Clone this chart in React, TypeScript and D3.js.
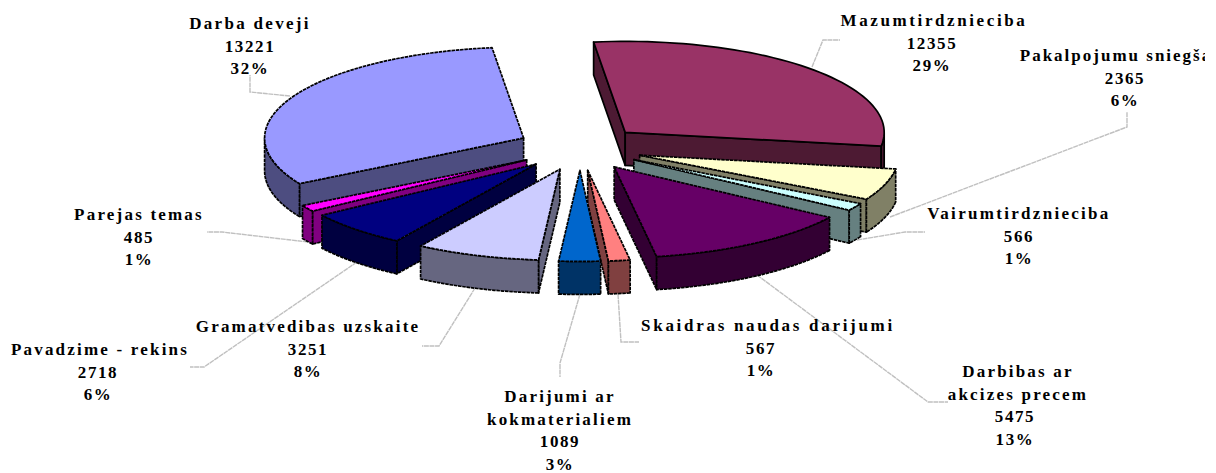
import React from "react";
import * as d3 from "d3";

const categories = [
  "Mazumtirdznieciba",
  "Pakalpojumu sniegša",
  "Vairumtirdznieciba",
  "Darbibas ar akcizes precem",
  "Skaidras naudas darijumi",
  "Darijumi ar kokmaterialiem",
  "Gramatvedibas uzskaite",
  "Pavadzime - rekins",
  "Parejas temas",
  "Darba deveji",
];
const values = [12355, 2365, 566, 5475, 567, 1089, 3251, 2718, 485, 13221];
const percents = ["29%", "6%", "1%", "13%", "1%", "3%", "8%", "6%", "1%", "32%"];
const topColors = ["#993366", "#ffffcc", "#ccffff", "#660066", "#ff8080", "#0066cc", "#ccccff", "#000080", "#ff00ff", "#9999ff"];
const sideColors = ["#4d1a33", "#808066", "#668080", "#330033", "#804040", "#003366", "#666680", "#000040", "#800080", "#4d4d80"];

// how the category names wrap in the labels
const nameLines = [
  ["Mazumtirdznieciba"],
  ["Pakalpojumu sniegša"],
  ["Vairumtirdznieciba"],
  ["Darbibas ar", "akcizes precem"],
  ["Skaidras naudas darijumi"],
  ["Darijumi ar", "kokmaterialiem"],
  ["Gramatvedibas uzskaite"],
  ["Pavadzime - rekins"],
  ["Parejas temas"],
  ["Darba deveji"],
];

// layout
const labelX = [934, 1116, 1019, 1018, 768, 560, 308, 100, 139, 250];
const valueShift = [-2, 9, 0, -3, -7, 0, 0, -2, 0, 0];
const labelTop = [26, 61, 219, 377, 331, 402, 332, 355, 220, 29];
const nameSpacing = [2.6, 2.0, 2.3, 2.2, 2.7, 2.2, 2.2, 2.2, 2.2, 2.3];
const lineGap = 22.6;
const leaders = [
  [[812, 67], [823, 40], [840, 40]],
  [[890, 217], [1127, 127], [1127, 112]],
  [[857, 240], [905, 232], [925, 232]],
  [[757, 275], [928, 402], [948, 402]],
  [[618, 294], [621, 342], [639, 342]],
  [[580, 294], [560, 363], [560, 377]],
  [[475, 288], [439, 346], [422, 346]],
  [[357, 262], [204, 367], [190, 367]],
  [[308, 242], [222, 232], [207, 232]],
  [[290, 96], [250, 92], [250, 75]],
];

const cx = 580;
const cy = 148;
const rx = 259;
const ry = 91;
const squash = 2.81;
const explode = 63;
const depth = 33;
const deg = Math.PI / 180;

const pie = d3
  .pie<number>()
  .sort(null)
  .startAngle(-7 * deg)
  .endAngle(353 * deg);

const polyline = d3.line();

// arc angles of a slice, sampled every 2 degrees
function sweep(a0: number, a1: number) {
  const n = Math.max(2, Math.ceil((a1 - a0) / (2 * deg)));
  return d3.range(n + 1).map((i) => a0 + ((a1 - a0) * i) / n);
}

function Slice({ arc, i }: { arc: d3.PieArcDatum<number>; i: number }) {
  const mid = (arc.startAngle + arc.endAngle) / 2;
  const ax = cx + explode * Math.sin(mid);
  const ay = cy - (explode * Math.cos(mid)) / squash;
  const px = (a: number) => ax + rx * Math.sin(a);
  const py = (a: number) => ay - ry * Math.cos(a);

  const wall = (a: number) =>
    polyline([
      [ax, ay],
      [px(a), py(a)],
      [px(a), py(a) + depth],
      [ax, ay + depth],
    ]) + "Z";

  // outer rim only shows on the front half of the ellipse
  const frontFrom = Math.max(arc.startAngle, 90 * deg);
  const frontTo = Math.min(arc.endAngle, 270 * deg);
  const rimAngles =
    arc.startAngle < -90 * deg
      ? sweep(arc.startAngle, -90 * deg)
      : frontTo > frontFrom
      ? sweep(frontFrom, frontTo)
      : [];
  const rim = d3
    .area<number>()
    .x((a) => px(a))
    .y0((a) => py(a))
    .y1((a) => py(a) + depth);

  const top =
    polyline([[ax, ay], ...sweep(arc.startAngle, arc.endAngle).map((a) => [px(a), py(a)] as [number, number])]) + "Z";

  // the big plum slice has clean outlines, the others look dotted in the source
  const dash = i === 0 ? undefined : "3.5 0.8";
  const outline = {
    stroke: "#000",
    strokeWidth: 1.7,
    strokeLinejoin: "round" as const,
    strokeDasharray: dash,
  };

  return (
    <g>
      {-Math.sin(arc.startAngle) > 0 && <path d={wall(arc.startAngle)} fill={sideColors[i]} {...outline} />}
      {Math.sin(arc.endAngle) > 0 && <path d={wall(arc.endAngle)} fill={sideColors[i]} {...outline} />}
      {rimAngles.length > 0 && <path d={rim(rimAngles) || ""} fill={sideColors[i]} {...outline} />}
      <path d={top} fill={topColors[i]} {...outline} />
    </g>
  );
}

export default function App() {
  const arcs = pie(values);
  // painter's order: back slices first
  const order = d3
    .range(arcs.length)
    .sort((a, b) =>
      d3.ascending(
        -Math.cos((arcs[a].startAngle + arcs[a].endAngle) / 2),
        -Math.cos((arcs[b].startAngle + arcs[b].endAngle) / 2)
      )
    );

  return (
    <svg
      width={1205}
      height={473}
      style={{ position: "absolute", left: 0, top: 0, background: "#fff" }}
      fontFamily="'Liberation Serif', serif"
      fontWeight="bold"
      fontSize={17}
    >
      <g fill="none" stroke="#c0c0c0" strokeWidth={1.4} strokeDasharray="5 0.6">
        {leaders.map((pts, i) => (
          <path key={categories[i]} d={polyline(pts as [number, number][]) || ""} />
        ))}
      </g>
      {order.map((i) => (
        <Slice key={categories[i]} arc={arcs[i]} i={i} />
      ))}
      <g textAnchor="middle" fill="#000">
        {categories.map((name, i) => {
          const n = nameLines[i].length;
          return (
            <text key={name}>
              {nameLines[i].map((line, j) => (
                <tspan key={j} x={labelX[i]} y={labelTop[i] + j * lineGap} letterSpacing={nameSpacing[i]}>
                  {line}
                </tspan>
              ))}
              <tspan x={labelX[i] + valueShift[i]} y={labelTop[i] + n * lineGap} letterSpacing={1.6}>
                {values[i]}
              </tspan>
              <tspan x={labelX[i] + valueShift[i]} y={labelTop[i] + (n + 1) * lineGap} letterSpacing={1.6}>
                {percents[i]}
              </tspan>
            </text>
          );
        })}
      </g>
    </svg>
  );
}
